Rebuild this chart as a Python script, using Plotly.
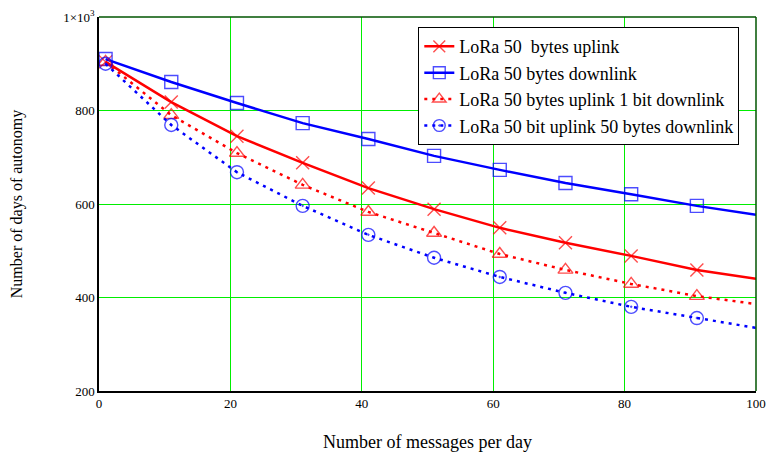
import plotly.graph_objects as go

x_msgs = [1, 11, 21, 31, 41, 51, 61, 71, 81, 91, 100]
uplink = [904, 818, 745, 688, 634, 589, 549, 517, 489, 459, 440]
downlink = [910, 861, 816, 773, 739, 703, 673, 645, 621, 596, 577]
up_1bit_down = [904, 790, 709, 641, 583, 538, 493, 459, 429, 403, 386]
bit_up_50_down = [900, 769, 668, 596, 534, 485, 444, 410, 380, 356, 335]

names = ["LoRa 50  bytes uplink", "LoRa 50 bytes downlink",
         "LoRa 50 bytes uplink 1 bit downlink", "LoRa 50 bit uplink 50 bytes downlink"]
x_ticks = [0, 20, 40, 60, 80, 100]
y_ticks = [200, 400, 600, 800, 1000]
y_ticktext = ["200", "400", "600", "800", "1×10<sup>3</sup>"]

series = [
    (uplink, "#ff0000", "solid", "x-thin-open"),
    (downlink, "#0000ff", "solid", "square-open"),
    (up_1bit_down, "#ff0000", "3px,5px", "triangle-up-open"),
    (bit_up_50_down, "#0000ff", "3px,5px", "circle-open-dot"),
]

fig = go.Figure()
for (vals, color, dash, sym), name in zip(series, names):
    sizes = [13] * (len(x_msgs) - 1) + [0]
    fig.add_trace(go.Scatter(
        x=x_msgs, y=vals, name=name, mode="lines+markers",
        line=dict(color=color, width=2.5, dash=dash),
        marker=dict(symbol=sym, size=sizes, color=color, line=dict(color=color, width=1.4)),
    ))

font = "Liberation Serif, Times New Roman, serif"
fig.update_layout(
    width=766, height=453,
    margin=dict(l=99, r=10, t=17, b=62),
    paper_bgcolor="white", plot_bgcolor="white",
    font=dict(family=font, size=13, color="black"),
    showlegend=True,
    legend=dict(x=0.486, y=0.973, xanchor="left", yanchor="top",
                bgcolor="white", bordercolor="black", borderwidth=1,
                font=dict(family=font, size=18), tracegroupgap=0, itemwidth=30),
    xaxis=dict(range=[0, 100], tickvals=x_ticks, ticks="", showgrid=True, automargin=False,
               gridcolor="#00ee00", gridwidth=1, showline=True, linecolor="black",
               linewidth=1.5, zeroline=False,
               title=dict(text="Number of messages per day", font=dict(size=18), standoff=25)),
    yaxis=dict(range=[200, 1000], tickvals=y_ticks, ticktext=y_ticktext, ticks="", automargin=False,
               showgrid=True, gridcolor="#00ee00", gridwidth=1, showline=True,
               linecolor="black", linewidth=1.5, zeroline=False,
               title=dict(text="Number of days of autonomy", font=dict(size=16), standoff=37)),
)
fig.add_shape(type="line", xref="x domain", yref="y domain", x0=0, x1=1, y0=1, y1=1,
              line=dict(color="#005500", width=1.5))
fig.add_shape(type="line", xref="x domain", yref="y domain", x0=1, x1=1, y0=0, y1=1,
              line=dict(color="#005500", width=1.5))
fig.write_html("out.html")
